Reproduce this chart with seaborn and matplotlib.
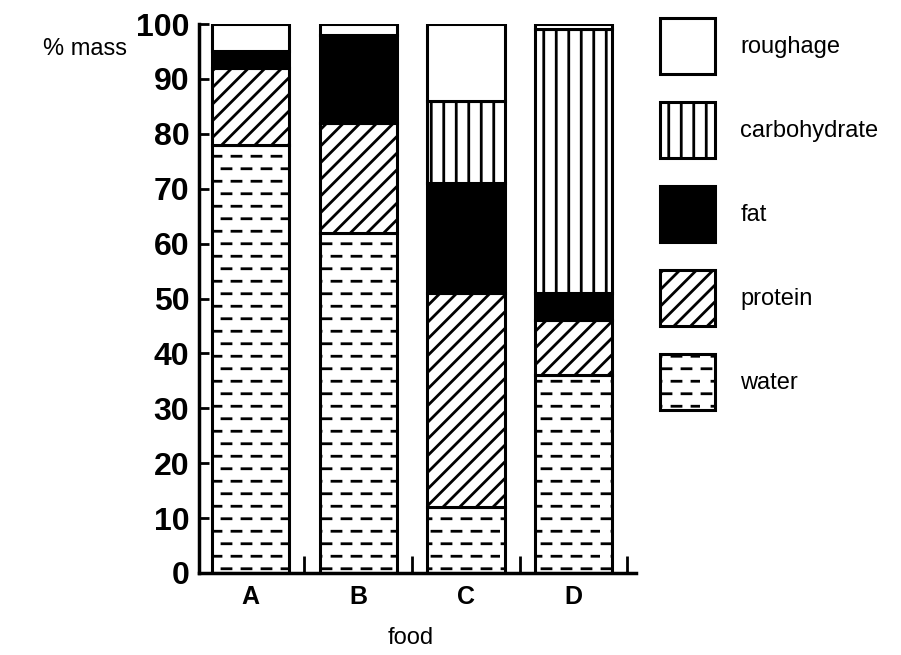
import matplotlib
matplotlib.use('Agg')
import matplotlib.pyplot as plt
import matplotlib.hatch as mhatch
from matplotlib.path import Path
from matplotlib.patches import Patch
from matplotlib.ticker import FixedLocator
import seaborn as sns
import numpy as np

# % mass of each component
foods = ['A', 'B', 'C', 'D']
water = [78, 62, 12, 36]
protein = [14, 20, 39, 10]
fat = [3, 16, 20, 5]
carbohydrate = [0, 0, 15, 48]
roughage = [5, 2, 14, 1]
y_ticks = list(range(0, 101, 10))


class DashHatch(mhatch.HatchPatternBase):
    # broken horizontal dashes (the "water" fill) instead of solid lines for '-'
    def __init__(self, hatch, density):
        self.rows = hatch.count('-') * 4
        self.per_row = 5
        self.num_vertices = self.rows * self.per_row * 2

    def set_vertices_and_codes(self, vertices, codes):
        k = 0
        for r in range(self.rows):
            y = (r + 0.5) / self.rows
            shift = 0.1 if r % 2 else 0.0
            for c in range(self.per_row):
                x0 = c / self.per_row + 0.02 + shift
                vertices[k] = (x0, y)
                vertices[k + 1] = (x0 + 0.09, y)
                codes[k] = Path.MOVETO
                codes[k + 1] = Path.LINETO
                k += 2


class TightVerticalHatch(mhatch.HatchPatternBase):
    # a bit denser than the stock '|' so the carbohydrate stripes match
    def __init__(self, hatch, density):
        self.num_lines = hatch.count('|') * 8
        self.num_vertices = self.num_lines * 2

    def set_vertices_and_codes(self, vertices, codes):
        steps = (np.arange(self.num_lines) + 0.5) / max(self.num_lines, 1)
        vertices[0::2, 0] = steps
        vertices[0::2, 1] = 0.0
        vertices[1::2, 0] = steps
        vertices[1::2, 1] = 1.0
        codes[0::2] = Path.MOVETO
        codes[1::2] = Path.LINETO


swap = {mhatch.HorizontalHatch: DashHatch, mhatch.VerticalHatch: TightVerticalHatch}
mhatch._hatch_types = [swap.get(t, t) for t in mhatch._hatch_types]

sns.set_style('ticks')
plt.rcParams['font.family'] = ['Liberation Sans', 'DejaVu Sans']
plt.rcParams['hatch.linewidth'] = 2.0
plt.rcParams['hatch.color'] = 'black'
for key in ['text.color', 'axes.labelcolor', 'xtick.color', 'ytick.color', 'axes.edgecolor']:
    plt.rcParams[key] = 'black'

fig = plt.figure(figsize=(9.01, 6.55), dpi=100)
ax = fig.add_axes([199 / 901, 1 - 573 / 655, 437 / 901, 549 / 655])

layers = [
    ('water', water, 'white', '--'),
    ('protein', protein, 'white', '//'),
    ('fat', fat, 'black', None),
    ('carbohydrate', carbohydrate, 'white', '|'),
    ('roughage', roughage, 'white', None),
]

bottom = np.zeros(len(foods))
for name, vals, color, hatch in layers:
    sns.barplot(x=foods, y=vals, bottom=bottom, color=color, saturation=1,
                edgecolor='black', linewidth=2.2, hatch=hatch, width=0.72,
                errorbar=None, ax=ax)
    bottom = bottom + np.array(vals)

ax.set_ylim(0, 100)
ax.set_xlim(-0.48, 3.58)
ax.set_yticks(y_ticks)
ax.set_yticklabels([str(t) for t in y_ticks], fontsize=23, fontweight='bold')
ax.set_xticks(range(len(foods)))
ax.set_xticklabels(foods, fontsize=18, fontweight='bold')
ax.xaxis.set_minor_locator(FixedLocator([0.5, 1.5, 2.5, 3.5]))

ax.tick_params(axis='y', direction='in', length=7, width=2, pad=7)
ax.tick_params(axis='x', which='major', length=0, pad=9)
ax.tick_params(axis='x', which='minor', direction='in', length=12, width=2)

sns.despine(ax=ax)
for side in ['left', 'bottom']:
    ax.spines[side].set_linewidth(2.5)

ax.set_ylabel('% mass', rotation=0, fontsize=17)
ax.yaxis.set_label_coords(-0.26, 0.934)
ax.set_xlabel('food', fontsize=17)
ax.xaxis.set_label_coords(0.485, -0.098)

# legend listed top-down: roughage first
handles = [Patch(facecolor=color, edgecolor='black', linewidth=2.2, hatch=hatch, label=name)
           for name, vals, color, hatch in layers[::-1]]
fig.legend(handles=handles, loc='upper left', bbox_to_anchor=(660 / 901, 1 - 18 / 655),
           frameon=False, fontsize=17, handlelength=2.35, handleheight=3.25,
           labelspacing=1.2, handletextpad=1.05, borderpad=0, borderaxespad=0)

fig.savefig('out.png', dpi=100)
